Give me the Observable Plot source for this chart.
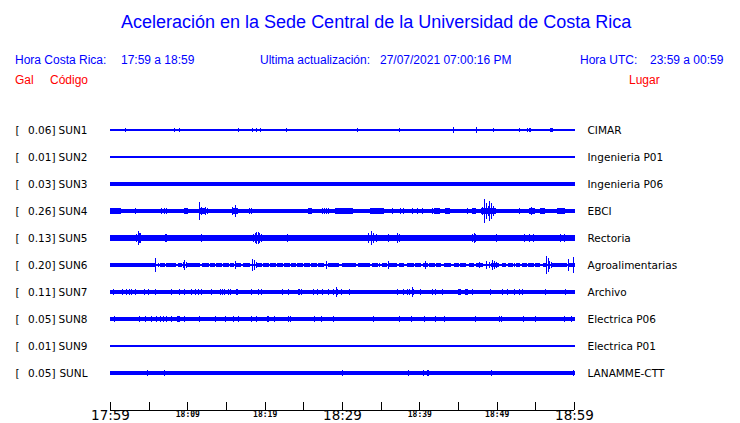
<!DOCTYPE html>
<html><head><meta charset="utf-8">
<script src="https://cdn.jsdelivr.net/npm/d3@7"></script>
<script src="https://cdn.jsdelivr.net/npm/@observablehq/plot@0.6"></script>
<style>
body{margin:0;background:#fff;width:740px;height:423px;overflow:hidden}
#head{position:relative;height:95px;font-family:"Liberation Sans",Arial,sans-serif;color:#0000ff}
#head span{position:absolute;white-space:pre;line-height:1}
.t{font-size:18px;top:13px}
.s{font-size:12px;top:54px}
.r{font-size:12px;top:74px;color:#ff0000}
#chart svg{display:block}
</style></head>
<body>
<div id="head">
<span class="t" style="left:121px">Aceleración en la Sede Central de la Universidad de Costa Rica</span>
<span class="s" style="left:15px">Hora Costa Rica:</span>
<span class="s" style="left:121px">17:59 a 18:59</span>
<span class="s" style="left:260px">Ultima actualización:</span>
<span class="s" style="left:380px">27/07/2021 07:00:16 PM</span>
<span class="s" style="left:580px">Hora UTC:</span>
<span class="s" style="left:650px">23:59 a 00:59</span>
<span class="r" style="left:15px">Gal</span>
<span class="r" style="left:50px">Código</span>
<span class="r" style="left:629px">Lugar</span>
</div>
<div id="chart"></div>
<script>
// ---------- data ----------
const codes = ["SUN1","SUN2","SUN3","SUN4","SUN5","SUN6","SUN7","SUN8","SUN9","SUNL"];
const peakGal = [0.06,0.01,0.03,0.26,0.13,0.20,0.11,0.05,0.01,0.05];
const places = ["CIMAR","Ingenieria P01","Ingenieria P06","EBCI","Rectoria","Agroalimentarias","Archivo","Electrica P06","Electrica P01","LANAMME-CTT"];
// background noise half-amplitude (Gal) of each trace
const noiseGal = [0.011,0.011,0.038,0.038,0.056,0.02,0.035,0.035,0.011,0.035];
// minutes after 17:59
const tickMinutes = [0,5,10,15,20,25,30,35,40,45,50,55,60];
const majorTicks = [0,30,60];
const majorLabels = ["17:59","18:29","18:59"];
const minorTicks = [10,20,40,50];
const minorLabels = ["18:09","18:19","18:39","18:49"];

// bands: [start minute, end minute, half-amplitude Gal]
const sun1Bands = [[18.8,19.3,0.028],[43.45,43.97,0.028],[47.26,47.69,0.028],[54.25,54.43,0.033],[56.9,57.2,0.033]];
const sun2Bands = [];
const sun3Bands = [];
const sun4Bands = [[0,1.3,0.058],[9.63,10.06,0.06],[11.6,12.4,0.062],[15.8,16.5,0.062],[25.7,26.05,0.058],[29.16,31.32,0.056],[33.69,35.42,0.06],[41.9,42.6,0.056],[43.41,43.84,0.065],[46.87,47.3,0.06],[48.0,49.8,0.065],[54.21,54.86,0.065],[55.72,56.24,0.058],[57.88,58.75,0.06]];
const sun5Bands = [[0,1.0,0.068],[3.3,4.3,0.07],[18.4,19.8,0.07],[33.2,34.6,0.07],[35.9,37.6,0.065],[46.7,47.4,0.07],[53.4,54.9,0.068],[58.1,59.0,0.068]];
const sun6Bands = [[0,5.7,0.035],[6.5,7.0,0.035],[7.3,7.8,0.035],[8.0,8.5,0.035],[8.8,9.3,0.035],[10.0,11.6,0.035],[12.0,12.8,0.035],[13.0,13.5,0.035],[13.8,14.4,0.035],[14.7,15.3,0.035],[15.6,16.0,0.035],[16.4,16.9,0.035],[17.2,18.1,0.035],[19.0,19.6,0.035],[19.9,20.5,0.035],[20.8,21.4,0.035],[21.7,22.3,0.035],[22.6,23.1,0.035],[23.5,24.0,0.035],[24.3,24.9,0.035],[25.2,25.8,0.035],[26.1,26.7,0.035],[27.0,27.6,0.035],[28.3,29.6,0.035],[30.0,31.8,0.035],[32.1,33.5,0.035],[34.0,34.6,0.035],[35.2,35.8,0.035],[36.2,37.0,0.035],[37.4,37.9,0.035],[38.5,39.2,0.035],[39.5,40.2,0.035],[40.5,41.0,0.035],[41.3,41.9,0.035],[42.2,42.8,0.035],[43.2,44.0,0.035],[44.5,45.0,0.035],[45.3,46.0,0.035],[46.5,47.0,0.035],[47.4,48.2,0.035],[49.3,50.3,0.035],[50.7,51.2,0.035],[51.5,52.1,0.035],[52.5,53.0,0.035],[53.3,53.8,0.035],[54.1,54.7,0.035],[55.0,55.6,0.035],[56.0,56.4,0.035],[57.2,59.0,0.035],[59.4,60,0.035]];
const sun7Bands = [[45.01,45.35,0.062],[46.0,46.2,0.055]];
const sun8Bands = [[8.75,8.95,0.06],[20.35,20.5,0.06]];
const sun9Bands = [];
const sunlBands = [[41.0,41.2,0.065]];

// spikes: [minute, half-amplitude Gal]
const sun1Spikes = [[2.03,0.037],[8.34,0.037],[8.98,0.037],[16.59,0.037],[18.44,0.037],[19.0,0.045],[19.48,0.037],[22.85,0.037],[32.05,0.037],[37.49,0.037],[44.4,0.06],[46.3,0.022],[47.0,0.022],[47.43,0.055],[49.54,0.037],[52.91,0.037],[53.95,0.05],[54.6,0.022],[57.06,0.045]];
const sun2Spikes = [];
const sun3Spikes = [];
const sun4Spikes = [[3.24,0.06],[6.7,0.06],[7.0,0.06],[7.3,0.06],[11.53,0.196],[11.88,0.087],[12.1,0.075],[12.31,0.08],[12.66,0.068],[15.9,0.087],[16.2,0.12],[16.41,0.068],[18.01,0.068],[18.27,0.068],[27.43,0.06],[27.7,0.06],[28.0,0.06],[28.29,0.06],[34.12,0.068],[34.56,0.068],[36.5,0.06],[37.58,0.06],[38.01,0.06],[39.09,0.06],[39.74,0.06],[40.39,0.06],[41.68,0.062],[42.11,0.062],[42.55,0.062],[46.22,0.06],[48.16,0.087],[48.47,0.26],[48.68,0.174],[48.9,0.109],[49.11,0.217],[49.33,0.174],[49.59,0.109],[52.91,0.06],[54.51,0.08]];
const sun5Spikes = [[1.3,0.07],[1.72,0.07],[2.16,0.07],[2.72,0.07],[4.75,0.07],[5.18,0.07],[5.5,0.068],[5.83,0.07],[6.26,0.07],[6.48,0.07],[7.8,0.068],[8.64,0.07],[9.29,0.07],[9.93,0.07],[10.58,0.07],[11.2,0.068],[12.31,0.07],[12.96,0.07],[13.61,0.07],[14.25,0.065],[14.9,0.065],[15.2,0.065],[15.55,0.065],[16.41,0.07],[17.06,0.07],[17.71,0.07],[20.09,0.07],[20.4,0.068],[20.73,0.07],[21.38,0.07],[21.7,0.068],[22.03,0.07],[23.54,0.065],[24.41,0.065],[24.8,0.065],[25.27,0.065],[26.13,0.065],[26.6,0.065],[27.0,0.07],[27.64,0.07],[28.29,0.07],[28.94,0.07],[29.59,0.07],[30.24,0.07],[30.7,0.068],[31.1,0.07],[31.96,0.07],[32.4,0.068],[34.99,0.07],[35.4,0.068],[38.44,0.07],[38.9,0.068],[39.31,0.07],[39.8,0.068],[40.17,0.07],[40.7,0.068],[41.25,0.07],[41.7,0.068],[42.11,0.07],[42.98,0.07],[43.84,0.07],[44.3,0.068],[45.5,0.068],[47.95,0.07],[48.5,0.068],[49.03,0.07],[49.5,0.068],[50.97,0.07],[51.5,0.068],[52.05,0.07],[52.6,0.068],[53.13,0.07],[55.2,0.068],[55.72,0.07],[56.1,0.068],[56.59,0.07],[57.0,0.068],[57.45,0.07],[59.4,0.068],[59.83,0.07],
  [3.46,0.087],[3.67,0.145],[3.84,0.1],[3.97,0.1],[4.19,0.076],[7.13,0.094],[7.34,0.094],[11.88,0.087],[18.57,0.085],[18.79,0.109],[19.0,0.12],[19.14,0.141],[19.35,0.115],[19.65,0.085],[22.89,0.094],[33.48,0.109],[33.78,0.145],[34.12,0.109],[34.47,0.08],[36.07,0.09],[36.72,0.076],[37.15,0.1],[37.49,0.09],[46.87,0.09],[47.08,0.115],[47.3,0.09],[50.02,0.087],[53.56,0.087],[54.21,0.087],[54.77,0.087],[58.31,0.087],[58.75,0.087]];
const sun6Spikes = [[1.86,0.05],[2.03,0.05],[5.92,0.152],[6.26,0.043],[6.91,0.043],[9.46,0.065],[9.63,0.115],[9.85,0.065],[16.2,0.08],[18.44,0.13],[18.7,0.1],[18.92,0.065],[23.24,0.05],[27.95,0.087],[34.9,0.05],[36.07,0.087],[37.58,0.05],[40.82,0.087],[43.84,0.05],[47.73,0.059],[48.68,0.094],[49.03,0.059],[49.5,0.109],[49.76,0.094],[50.02,0.065],[51.83,0.05],[52.27,0.05],[54.34,0.05],[56.5,0.196],[56.67,0.152],[56.89,0.087],[57.1,0.059],[59.31,0.135],[59.95,0.18]];
const sun7Spikes = [[0.43,0.058],[1.6,0.058],[2.16,0.058],[2.46,0.058],[2.81,0.058],[3.33,0.058],[4.45,0.058],[4.97,0.058],[5.83,0.058],[7.99,0.058],[8.98,0.058],[9.63,0.058],[10.58,0.058],[11.1,0.058],[11.45,0.058],[11.88,0.058],[13.17,0.058],[14.25,0.058],[14.56,0.058],[14.82,0.058],[15.33,0.058],[15.55,0.058],[16.33,0.062],[16.54,0.062],[18.36,0.058],[19.14,0.058],[19.65,0.062],[22.25,0.058],[23.11,0.058],[24.32,0.058],[24.53,0.068],[24.75,0.058],[26.35,0.058],[26.78,0.058],[27.43,0.058],[28.21,0.058],[28.94,0.068],[29.24,0.11],[29.46,0.076],[29.93,0.062],[31.01,0.058],[37.15,0.058],[38.01,0.058],[38.44,0.058],[38.79,0.068],[39.09,0.098],[39.31,0.062],[40.17,0.058],[41.68,0.058],[42.11,0.062],[42.98,0.058],[46.87,0.058],[49.15,0.058],[50.75,0.058],[51.4,0.055],[52.27,0.055],[52.91,0.058],[53.35,0.058],[56.37,0.058],[58.96,0.058]];
const sun8Spikes = [[0.56,0.06],[3.8,0.06],[4.54,0.06],[5.4,0.06],[6.05,0.06],[6.57,0.06],[6.91,0.06],[7.26,0.06],[7.99,0.06],[9.63,0.06],[11.53,0.06],[13.69,0.06],[14.99,0.06],[15.98,0.06],[16.63,0.06],[18.36,0.06],[19.0,0.06],[21.3,0.06],[23.02,0.06],[23.32,0.06],[26.44,0.06],[27.3,0.06],[28.94,0.06],[34.12,0.06],[37.49,0.06],[39.05,0.06],[40.73,0.06],[42.03,0.06],[43.19,0.06],[47.21,0.06],[50.32,0.06],[50.62,0.06],[53.43,0.06],[55.07,0.06],[58.75,0.06],[59.74,0.06]];
const sun9Spikes = [[6.05,0.032],[7.04,0.032],[14.99,0.032],[15.33,0.032],[16.41,0.032],[20.43,0.032],[26.65,0.032],[31.79,0.032],[35.55,0.032],[38.01,0.032],[54.34,0.032],[58.1,0.032]];
const sunlSpikes = [[4.84,0.065],[7.04,0.06],[23.76,0.05],[30.02,0.065],[38.57,0.055],[40.6,0.06],[49.37,0.055],[51.96,0.05],[59.95,0.06]];

const bandsBy = [sun1Bands,sun2Bands,sun3Bands,sun4Bands,sun5Bands,sun6Bands,sun7Bands,sun8Bands,sun9Bands,sunlBands];
const spikesBy = [sun1Spikes,sun2Spikes,sun3Spikes,sun4Spikes,sun5Spikes,sun6Spikes,sun7Spikes,sun8Spikes,sun9Spikes,sunlSpikes];

// ---------- layout constants ----------
const rowPx = 27;            // vertical spacing of traces
const pxPerGal = 46;         // trace amplification
const gain = pxPerGal / rowPx; // rows per Gal
const axisRow = 9 + 37 / rowPx; // time axis position below last trace
const blue = "#0000ff";

const segs = [];
codes.forEach((c, i) => {
  segs.push({row: i, x1: 0, x2: 60, a: noiseGal[i]});
  bandsBy[i].forEach(([s, e, a]) => segs.push({row: i, x1: s, x2: e, a}));
  spikesBy[i].forEach(([m, a]) => segs.push({row: i, x1: m, x2: m, a}));
});
const rows = d3.range(codes.length);

const chart = Plot.plot({
  width: 740,
  height: 328,
  marginLeft: 110,
  marginRight: 166,
  marginTop: 8,
  marginBottom: 13,
  style: {fontFamily: "DejaVu Sans", fontSize: "10.5px", color: "black", background: "white", overflow: "visible"},
  x: {domain: [0, 60]},
  y: {domain: [axisRow, -1]},
  marks: [
    Plot.rect(segs, {
      x1: "x1", x2: "x2",
      y1: d => d.row - d.a * gain, y2: d => d.row + d.a * gain,
      fill: blue, insetLeft: -0.5, insetRight: -0.5, shapeRendering: "crispEdges"
    }),
    Plot.axisY({ticks: rows, tickFormat: i => "[", anchor: "left", tickSize: 0, tickPadding: 91, label: null, fontSize: 10.5}),
    Plot.axisY({ticks: rows, tickFormat: i => peakGal[i].toFixed(2) + "]", anchor: "left", tickSize: 0, tickPadding: 55, label: null, fontSize: 10.5}),
    Plot.axisY({ticks: rows, tickFormat: i => codes[i], anchor: "left", tickSize: 0, tickPadding: 23, label: null, fontSize: 10.5}),
    Plot.axisY({ticks: rows, tickFormat: i => places[i], anchor: "right", tickSize: 0, tickPadding: 13, label: null, fontSize: 10.5}),
    Plot.ruleY([axisRow], {stroke: "black", shapeRendering: "crispEdges"}),
    Plot.ruleX(tickMinutes, {x: d => d, y1: axisRow, y2: axisRow, insetTop: -8, stroke: "black", shapeRendering: "crispEdges"}),
    Plot.axisX({ticks: majorTicks, tickFormat: d => majorLabels[majorTicks.indexOf(d)], anchor: "bottom", tickSize: 0, tickPadding: 0, label: null, fontSize: 13.5, fontFamily: "DejaVu Sans"}),
    Plot.axisX({ticks: minorTicks, tickFormat: d => minorLabels[minorTicks.indexOf(d)], anchor: "bottom", tickSize: 0, tickPadding: 1, label: null, fontSize: 8, fontWeight: "bold", fontFamily: "DejaVu Sans Mono"})
  ]
});
document.getElementById("chart").appendChild(chart);
</script>
</body></html>
